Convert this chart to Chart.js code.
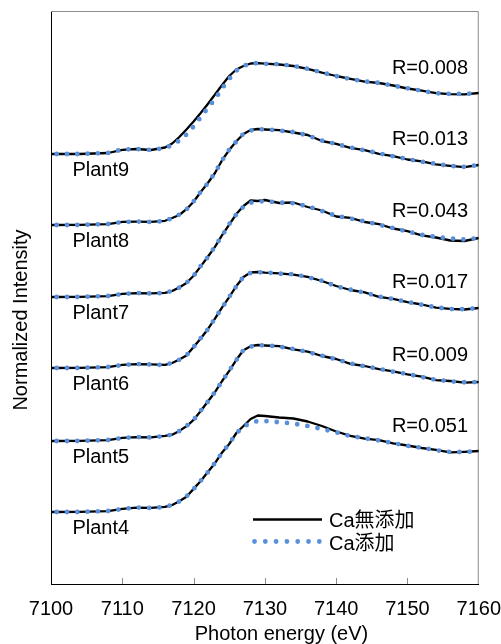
<!DOCTYPE html>
<html>
<head>
<meta charset="utf-8">
<script src="https://cdn.jsdelivr.net/npm/chart.js@4.4.1/dist/chart.umd.min.js"></script>
<style>
html,body{margin:0;padding:0;background:#ffffff;}
canvas{display:block;}
</style>
</head>
<body>
<canvas id="chart" width="501" height="644"></canvas>
<script>
// ---------- data ----------
const energies = [7100,7104,7108,7110,7112,7114,7116,7117,7118,7119,7120,7121,7122,7123,7124,7125,7126,7127,7128,7129,7130,7132,7134,7136,7138,7140,7142,7144,7146,7148,7150,7152,7154,7156,7158,7160];
const xTicks = [7100,7110,7120,7130,7140,7150,7160];
const seriesNames = ['Ca無添加','Ca添加'];
const plantNames = ['Plant9','Plant8','Plant7','Plant6','Plant5','Plant4'];
const rLabels = ['R=0.008','R=0.013','R=0.043','R=0.017','R=0.009','R=0.051'];

const plant9NoCa = [4.30,4.30,4.31,4.342,4.35,4.34,4.365,4.405,4.47,4.545,4.625,4.71,4.80,4.895,4.99,5.08,5.145,5.18,5.205,5.209,5.203,5.195,5.18,5.152,5.113,5.08,5.052,5.024,5.01,4.985,4.955,4.933,4.908,4.899,4.897,4.91];
const plant9Ca   = [4.30,4.30,4.31,4.345,4.35,4.34,4.36,4.389,4.433,4.495,4.575,4.667,4.76,4.847,4.956,5.051,5.134,5.18,5.204,5.209,5.202,5.199,5.181,5.152,5.115,5.079,5.049,5.025,5.011,4.983,4.958,4.932,4.908,4.901,4.90,4.91];

const plant8NoCa = [3.59,3.592,3.598,3.622,3.623,3.621,3.632,3.66,3.69,3.748,3.822,3.92,4.01,4.11,4.238,4.34,4.428,4.50,4.54,4.55,4.545,4.538,4.515,4.49,4.43,4.402,4.362,4.338,4.302,4.279,4.245,4.226,4.197,4.182,4.168,4.19];
const plant8Ca   = [3.59,3.59,3.60,3.62,3.625,3.62,3.63,3.659,3.694,3.745,3.825,3.922,4.007,4.112,4.236,4.343,4.425,4.503,4.535,4.546,4.547,4.534,4.519,4.486,4.434,4.40,4.365,4.336,4.306,4.277,4.249,4.223,4.201,4.18,4.171,4.19];

const plant7NoCa = [2.87,2.872,2.878,2.902,2.908,2.907,2.912,2.93,2.966,3.01,3.082,3.176,3.272,3.372,3.488,3.594,3.70,3.78,3.835,3.83,3.84,3.81,3.815,3.77,3.735,3.675,3.662,3.62,3.598,3.555,3.528,3.487,3.465,3.435,3.43,3.46];
const plant7Ca   = [2.87,2.87,2.88,2.90,2.91,2.905,2.91,2.932,2.964,3.012,3.08,3.18,3.268,3.376,3.483,3.598,3.696,3.773,3.813,3.825,3.828,3.814,3.808,3.776,3.73,3.681,3.655,3.626,3.592,3.559,3.525,3.491,3.47,3.455,3.445,3.46];

const plant6NoCa = [2.16,2.162,2.168,2.192,2.198,2.196,2.192,2.21,2.245,2.285,2.37,2.455,2.548,2.654,2.766,2.868,2.98,3.07,3.115,3.12,3.114,3.106,3.094,3.072,3.03,2.98,2.94,2.917,2.871,2.852,2.818,2.795,2.764,2.751,2.745,2.76];
const plant6Ca   = [2.16,2.16,2.17,2.19,2.20,2.195,2.19,2.212,2.242,2.287,2.368,2.457,2.545,2.656,2.763,2.87,2.977,3.072,3.111,3.117,3.117,3.103,3.097,3.069,3.033,2.977,2.943,2.914,2.874,2.849,2.821,2.792,2.767,2.749,2.748,2.76];

const plant5NoCa = [1.43,1.432,1.438,1.462,1.468,1.466,1.482,1.493,1.531,1.577,1.641,1.73,1.825,1.918,2.03,2.131,2.242,2.338,2.378,2.39,2.385,2.378,2.346,2.323,2.28,2.25,2.202,2.18,2.149,2.126,2.096,2.073,2.039,2.03,2.014,2.02];
const plant5Ca   = [1.43,1.43,1.44,1.46,1.47,1.465,1.48,1.495,1.529,1.579,1.639,1.733,1.822,1.92,2.028,2.134,2.239,2.34,2.374,2.385,2.388,2.374,2.349,2.32,2.283,2.247,2.205,2.177,2.152,2.123,2.099,2.07,2.042,2.027,2.017,2.02];

const plant4NoCa = [0.72,0.722,0.728,0.752,0.763,0.762,0.772,0.79,0.828,0.873,0.951,1.03,1.12,1.208,1.315,1.40,1.51,1.58,1.65,1.685,1.68,1.665,1.655,1.625,1.58,1.525,1.482,1.454,1.438,1.406,1.385,1.36,1.341,1.317,1.322,1.33];
const plant4Ca   = [0.72,0.72,0.73,0.75,0.765,0.76,0.77,0.792,0.826,0.875,0.949,1.033,1.117,1.211,1.311,1.404,1.507,1.572,1.612,1.63,1.63,1.618,1.604,1.58,1.55,1.517,1.479,1.457,1.436,1.409,1.382,1.363,1.338,1.32,1.32,1.33];

const noCaSeries = [plant9NoCa, plant8NoCa, plant7NoCa, plant6NoCa, plant5NoCa, plant4NoCa];
const caSeries   = [plant9Ca, plant8Ca, plant7Ca, plant6Ca, plant5Ca, plant4Ca];

// ---------- styles ----------
const FONT = "'Liberation Sans', Arial, 'Noto Sans CJK JP', sans-serif";
const BLUE = '#5990db';
const BLACK_W = 2.3;
const DOT_W = 4.8;
const DOT_GAP = 10.3;

function toPoints(vals){ return energies.map((e,i)=>({x:e, y:vals[i]})); }

const datasets = [];
plantNames.forEach((p, i) => {
  datasets.push({
    label: seriesNames[0] + ' ' + p,
    data: toPoints(noCaSeries[i]),
    borderColor: '#000000',
    borderWidth: BLACK_W,
    borderJoinStyle: 'round',
    borderCapStyle: 'butt',
    pointRadius: 0,
    tension: 0,
    order: 3
  });
});
plantNames.forEach((p, i) => {
  datasets.push({
    label: seriesNames[1] + ' ' + p,
    data: toPoints(caSeries[i]),
    borderColor: BLUE,
    borderWidth: DOT_W,
    borderDash: [0, DOT_GAP],
    borderDashOffset: 4.6,
    borderCapStyle: 'round',
    borderJoinStyle: 'round',
    pointRadius: 0,
    tension: 0,
    order: 0
  });
});

// frame + inside tick marks
const framePlugin = {
  id: 'frame',
  beforeDatasetsDraw(chart){
    const {ctx, chartArea:a} = chart;
    const xs = chart.scales.x;
    ctx.save();
    ctx.strokeStyle = '#8c8c8c';
    ctx.lineWidth = 1;
    ctx.beginPath();
    ctx.moveTo(a.left, a.top + 0.5);
    ctx.lineTo(a.right - 0.5, a.top + 0.5);
    ctx.lineTo(a.right - 0.5, a.bottom);
    ctx.stroke();
    xTicks.forEach(t => {
      if (t === xTicks[0] || t === xTicks[xTicks.length-1]) return;
      const px = Math.round(xs.getPixelForValue(t)) + 0.5;
      ctx.beginPath();
      ctx.moveTo(px, a.bottom);
      ctx.lineTo(px, a.bottom - 6);
      ctx.stroke();
    });
    ctx.restore();
  }
};

// labels, legend and axis titles
const textPlugin = {
  id: 'texts',
  afterDraw(chart){
    const {ctx} = chart;
    const xs = chart.scales.x, ys = chart.scales.y;
    ctx.save();
    ctx.fillStyle = '#000';
    ctx.font = '20px ' + FONT;
    ctx.textBaseline = 'alphabetic';
    plantNames.forEach((p, i) => {
      const pre = ys.getPixelForValue(caSeries[i][0]);
      ctx.textAlign = 'left';
      ctx.fillText(p, xs.getPixelForValue(7103), pre + 21.5);
      ctx.textAlign = 'right';
      ctx.fillText(rLabels[i], xs.getPixelForValue(7158.5), pre - 80);
    });
    // legend
    ctx.strokeStyle = '#000';
    ctx.lineWidth = 2.6;
    ctx.beginPath();
    ctx.moveTo(253, 519.5); ctx.lineTo(322, 519.5);
    ctx.stroke();
    ctx.strokeStyle = BLUE;
    ctx.lineWidth = DOT_W;
    ctx.lineCap = 'round';
    ctx.setLineDash([0, 10.8]);
    ctx.beginPath();
    ctx.moveTo(254.5, 541.5); ctx.lineTo(321, 541.5);
    ctx.stroke();
    ctx.setLineDash([]);
    ctx.textAlign = 'left';
    ctx.fillText(seriesNames[0], 329, 526.5);
    ctx.fillText(seriesNames[1], 329, 549.5);
    // axis titles
    ctx.textAlign = 'center';
    ctx.fillText('Photon energy (eV)', 281.5, 640);
    ctx.translate(27, 320);
    ctx.rotate(-Math.PI/2);
    ctx.fillText('Normalized Intensity', 0, 0);
    ctx.restore();
  }
};

new Chart(document.getElementById('chart'), {
  type: 'line',
  data: { datasets },
  options: {
    responsive: false,
    devicePixelRatio: 1,
    animation: false,
    events: [],
    layout: { padding: { top: 11, right: 0, bottom: 0, left: 0 } },
    plugins: { legend: { display: false }, tooltip: { enabled: false }, title: { display: false } },
    scales: {
      x: {
        type: 'linear',
        min: 7100, max: 7160,
        afterFit(s){ s.height = 60; },
        afterBuildTicks(s){ s.ticks = xTicks.map(v => ({value: v})); },
        grid: { display: false, drawTicks: true, tickLength: 13 },
        border: { display: true, color: '#000', width: 1 },
        ticks: { color: '#000', font: { family: FONT, size: 20 }, padding: 0, maxRotation: 0, autoSkip: false,
                 callback: v => String(v) }
      },
      y: {
        type: 'linear',
        min: 0, max: 5.73,
        afterFit(s){ s.width = 51; },
        grid: { display: false, drawTicks: false },
        border: { display: true, color: '#000', width: 1 },
        ticks: { display: false }
      }
    }
  },
  plugins: [framePlugin, textPlugin]
});
</script>
</body>
</html>
